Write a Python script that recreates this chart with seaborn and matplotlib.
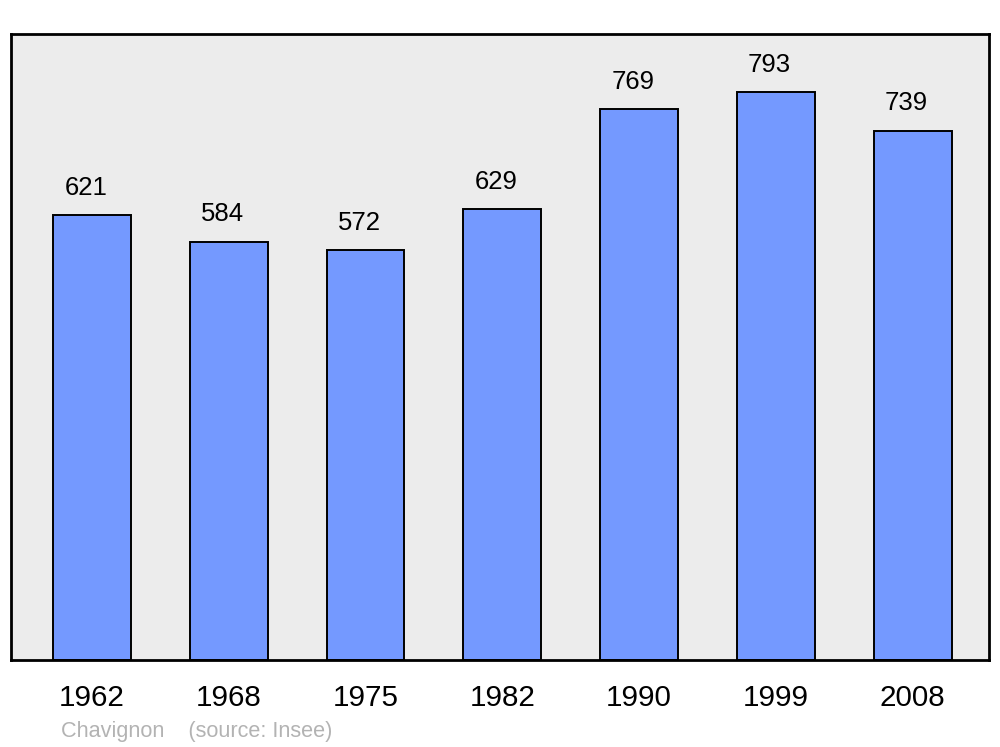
import pandas as pd
import seaborn as sns
import matplotlib.pyplot as plt

sns.set_style("white")
plt.rcParams['font.family'] = ['Liberation Sans', 'DejaVu Sans']
plt.rcParams['text.color'] = 'black'
plt.rcParams['xtick.color'] = 'black'

# population of Chavignon by census year
years = ["1962", "1968", "1975", "1982", "1990", "1999", "2008"]
population = [621, 584, 572, 629, 769, 793, 739]

data = pd.DataFrame({"year": years, "population": population})

fig = plt.figure(figsize=(10, 7.47), dpi=100)
ax = fig.add_axes([0.011, 0.1165, 0.978, 0.838])
ax.set_facecolor("#ececec")

sns.barplot(data=data, x="year", y="population", color="#7499ff",
            saturation=1, width=0.57, edgecolor="black", linewidth=1.4, ax=ax)

for i, v in enumerate(data["population"]):
    ax.text(i - 0.045, v + 38, str(v), ha="center", va="center", fontsize=18.5)

ax.set_xlim(-0.592, 6.559)
ax.set_ylim(0, 874)
ax.set_yticks([])
ax.set_xlabel("")
ax.set_ylabel("")
ax.tick_params(axis="x", length=0, labelsize=21.3, pad=17)
for s in ax.spines.values():
    s.set_linewidth(2)
    s.set_color("black")

fig.text(0.061, 0.021, "Chavignon    (source: Insee)", fontsize=15.6,
         color="#b3b3b3", ha="left", va="center")

plt.savefig("out.png", dpi=100)
